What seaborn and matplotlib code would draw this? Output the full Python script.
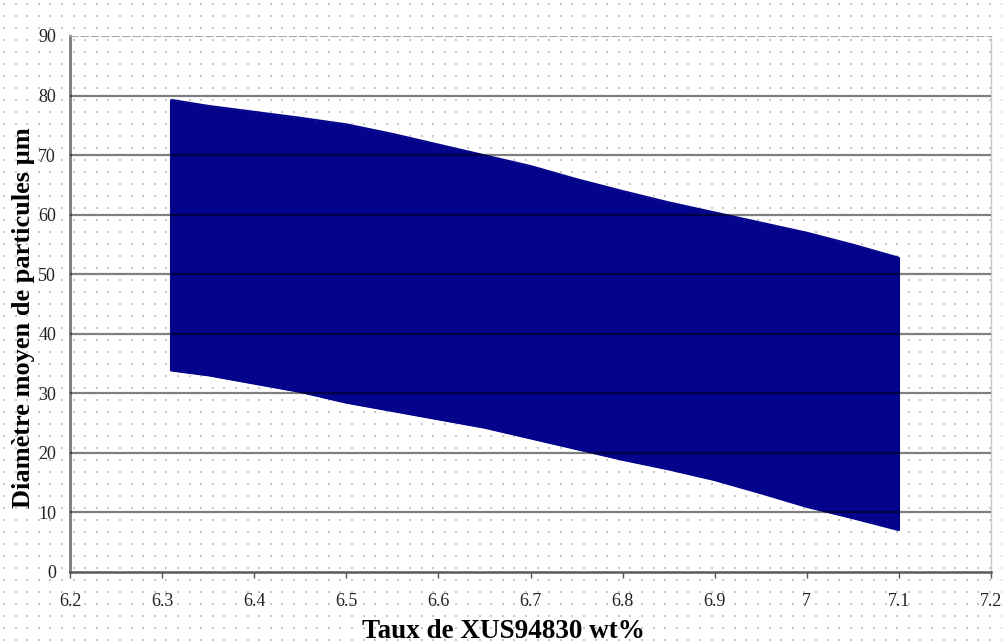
import numpy as np
import pandas as pd
import seaborn as sns
import matplotlib.pyplot as plt

# taux de XUS94830 (wt%) et bornes du nuage de points (diametre moyen, um)
taux = [6.31, 6.35, 6.40, 6.45, 6.50, 6.55, 6.60, 6.65, 6.70,
        6.75, 6.80, 6.85, 6.90, 6.95, 7.00, 7.05, 7.10]
diam_haut = [79.3, 78.3, 77.3, 76.3, 75.2, 73.6, 71.8, 70.0, 68.2,
             66.0, 64.0, 62.1, 60.4, 58.7, 57.0, 55.0, 52.8]
diam_bas = [33.8, 33.0, 31.6, 30.2, 28.4, 27.0, 25.6, 24.2, 22.4,
            20.6, 18.8, 17.2, 15.4, 13.2, 10.9, 9.0, 7.0]

xticks = [6.2, 6.3, 6.4, 6.5, 6.6, 6.7, 6.8, 6.9, 7, 7.1, 7.2]
xtick_labels = ["6.2", "6.3", "6.4", "6.5", "6.6", "6.7", "6.8", "6.9", "7", "7.1", "7.2"]
yticks = [0, 10, 20, 30, 40, 50, 60, 70, 80, 90]

df = pd.DataFrame({"taux": taux, "haut": diam_haut, "bas": diam_bas})

sns.set_theme(style="white")
plt.rcParams["font.family"] = ["Liberation Serif", "DejaVu Serif"]

fig = plt.figure(figsize=(10.02, 6.43), dpi=100)

# fond pointille de la page
bg = fig.add_axes([0, 0, 1, 1], zorder=-5)
bg.set_xlim(0, 1002)
bg.set_ylim(643, 0)
bg.axis("off")
gx, gy = np.meshgrid(np.arange(4, 1002, 11.6), np.arange(4, 643, 12))
bg.scatter(gx.ravel(), gy.ravel(), marker="s", s=1.6, color="#c8c8c8", linewidths=0)

ax = fig.add_axes([70 / 1002, 1 - 572 / 643, 921 / 1002, 536 / 643])
ax.set_facecolor("none")

navy = "#03038c"
ax.fill_between(df["taux"], df["bas"], df["haut"], color=navy, linewidth=0, zorder=1)
sns.lineplot(data=df, x="taux", y="haut", ax=ax, color=navy, linewidth=1.2, zorder=1)
sns.lineplot(data=df, x="taux", y="bas", ax=ax, color=navy, linewidth=1.2, zorder=1)
ax.vlines([taux[0], taux[-1]], [diam_bas[0], diam_bas[-1]], [diam_haut[0], diam_haut[-1]],
          color=navy, linewidth=1.5, zorder=1)

# lignes horizontales par-dessus le nuage
for yv in yticks[1:-1]:
    ax.axhline(yv, color="black", alpha=0.5, linewidth=1.6, zorder=3)
ax.axhline(90, color="#a8a8a8", linewidth=1.5, linestyle=(0, (4, 1)), zorder=3)

ax.set_xlim(6.2, 7.2)
ax.set_ylim(0, 90)
ax.set_xticks(xticks)
ax.set_xticklabels(xtick_labels)
ax.set_yticks(yticks)
ax.tick_params(axis="x", direction="out", length=4, width=1, color="#555555",
               pad=11, labelsize=13, bottom=True)
ax.tick_params(axis="y", length=0, pad=10, labelsize=13)
for lab in ax.get_xticklabels() + ax.get_yticklabels():
    lab.set_color("#222222")

ax.spines["top"].set_visible(False)
ax.spines["left"].set_color("#7a7a7a")
ax.spines["left"].set_linewidth(2)
ax.spines["bottom"].set_color("#5a5a5a")
ax.spines["bottom"].set_linewidth(1.8)
ax.spines["right"].set_color("#c8c8c8")
ax.spines["right"].set_linewidth(1)
ax.set_xlabel("")
ax.set_ylabel("")

fig.text(503 / 1002, 1 - 632 / 643, "Taux de XUS94830 wt%", ha="center", va="center",
         fontsize=19.5, fontweight="bold", color="black")
fig.text(24 / 1002, 1 - 318 / 643, "Diamètre moyen de particules µm", ha="center",
         va="center", rotation=90, fontsize=19, fontweight="bold", color="black")

fig.savefig("out.png", dpi=100)
